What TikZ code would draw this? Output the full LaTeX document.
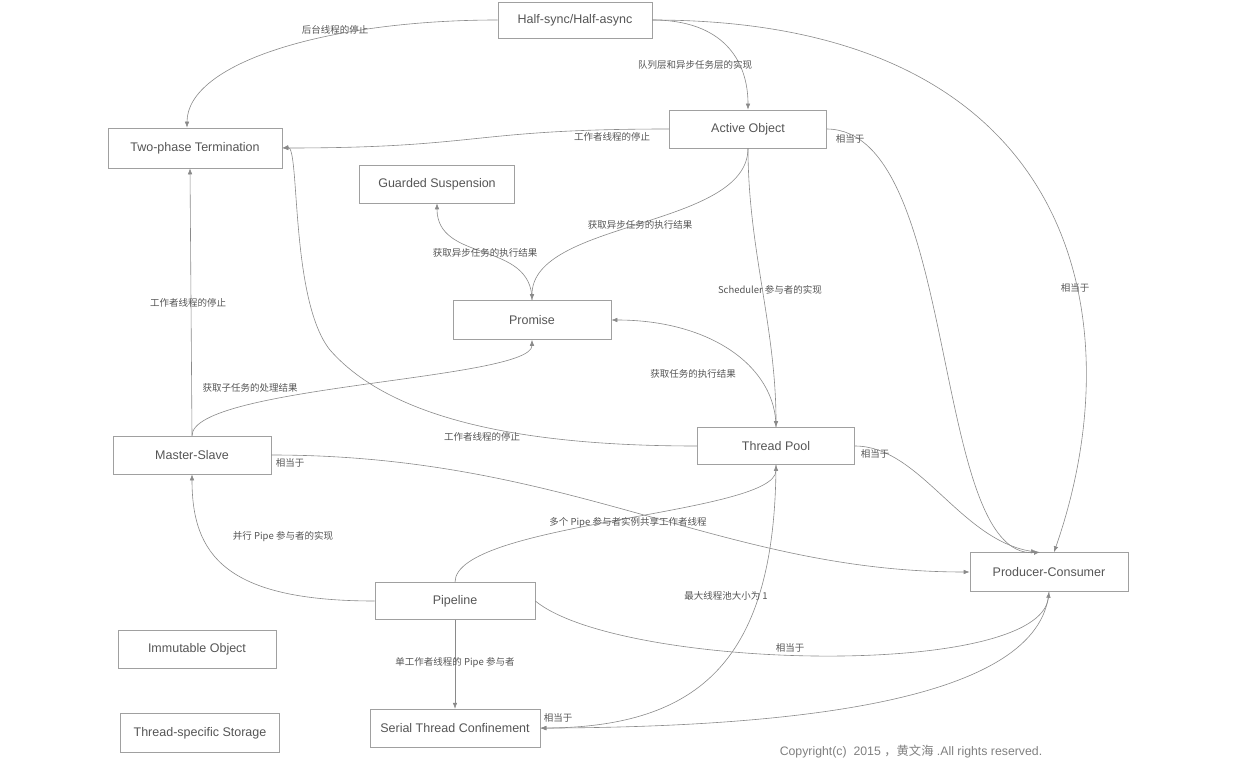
\documentclass[tikz,border=0pt]{standalone}
\usepackage{fontspec}
\setmainfont{Liberation Sans}
\newfontfamily\cjk{Noto Sans CJK SC}
\usetikzlibrary{arrows.meta,positioning}
\definecolor{linegray}{HTML}{8A8A8A}
\definecolor{textgray}{HTML}{555555}
\definecolor{boxgray}{HTML}{A0A0A0}

\begin{document}
\begin{tikzpicture}[x=1pt, y=-1pt, font=\fontsize{12.5}{14}\selectfont, text=textgray,
  block/.style={draw=boxgray, line width=0.6pt, minimum width=157pt, minimum height=38pt, inner sep=2pt},
  lbl/.style={font=\cjk\fontsize{9.5}{11}\selectfont, inner sep=1pt},
  arrow/.style={-{Latex[length=6pt,width=4.5pt]}, draw=linegray, line width=0.6pt}]
  \useasboundingbox (0,0) rectangle (1236,767);
  % patterns
  \node[block, minimum width=154pt, minimum height=36pt] (hs) at (575,20) {Half-sync/Half-async};
  \node[block] (ao) at (748,129) {Active Object};
  \node[block, minimum width=174pt, minimum height=40pt] (tpt) at (195,148) {Two-phase Termination};
  \node[block, minimum width=155pt] (gs) at (437,184) {Guarded Suspension};
  \node[block, minimum width=158pt, minimum height=39pt] (pr) at (532,320) {Promise};
  \node[block, minimum width=158pt] (ms) at (192,455) {Master-Slave};
  \node[block, minimum height=37pt] (tpool) at (776,446) {Thread Pool};
  \node[block, minimum width=158pt, minimum height=39pt] (pc) at (1049,572) {Producer-Consumer};
  \node[block, minimum width=160pt, minimum height=37pt] (pl) at (455,601) {Pipeline};
  \node[block, minimum width=170pt, below=89pt of pl] (stc) {Serial Thread Confinement};
  \node[block, minimum width=158pt] (io) at (197,649) {Immutable Object};
  \node[block, minimum width=159pt, minimum height=39pt] (tss) at (200,733) {Thread-specific Storage};
  % relations
  \draw[arrow] (hs.west) .. controls +(-170,0) and +(0,-65) .. ([xshift=-8pt]tpt.north);
  \node[lbl] (l1) at (335,30) {后台线程的停止};
  \draw[arrow] (hs.east) .. controls +(70,0) and +(0,-50) .. (ao.north);
  \node[lbl] (l2) at (695,65) {队列层和异步任务层的实现};
  \draw[arrow] (hs.east) .. controls (1080,20) and (1135,320) .. ([xshift=5pt]pc.north);
  \node[lbl] (l3) at (1075,288) {相当于};
  \draw[arrow] (ao.west) .. controls +(-200,0) and +(200,0) .. (tpt.east);
  \node[lbl] (l4) at (612,137) {工作者线程的停止};
  \draw[arrow] (ao.east) .. controls (960,130) and (930,560) .. ([xshift=-9pt]pc.north);
  \node[lbl] (l5) at (850,139) {相当于};
  \draw[arrow] (ao.south) .. controls +(0,80) and +(0,-80) .. (pr.north);
  \node[lbl] (l6) at (640,225) {获取异步任务的执行结果};
  \draw[arrow] (pr.north) .. controls +(0,-60) and +(0,60) .. (gs.south);
  \node[lbl] (l7) at (485,253) {获取异步任务的执行结果};
  \draw[arrow] (ao.south) .. controls +(0,100) and +(0,-100) .. (tpool.north);
  \node[lbl] (l8) at (770,290) {Scheduler 参与者的实现};
  \draw[arrow] (tpool.north) .. controls +(0,-60) and +(100,0) .. (pr.east);
  \node[lbl] (l9) at (693,374) {获取任务的执行结果};
  \draw[arrow] (tpool.west) .. controls (560,446) and (400,430) .. (330,350)
    .. controls (290,300) and (300,146) .. (tpt.east);
  \node[lbl] (l10) at (482,437) {工作者线程的停止};
  \draw[arrow] (ms.north) -- ([xshift=-5pt]tpt.south);
  \node[lbl] (l11) at (188,303) {工作者线程的停止};
  \draw[arrow] (ms.north) .. controls +(0,-50) and +(0,40) .. (pr.south);
  \node[lbl] (l12) at (250,388) {获取子任务的处理结果};
  \draw[arrow] (ms.east) .. controls +(300,0) and +(-250,0) .. (pc.west);
  \node[lbl] (l13) at (290,463) {相当于};
  \draw[arrow] (tpool.east) .. controls (920,446) and (960,540) .. ([xshift=-12pt]pc.north);
  \node[lbl] (l14) at (875,454) {相当于};
  \draw[arrow] (pl.west) .. controls +(-150,0) and +(0,80) .. (ms.south);
  \node[lbl] (l15) at (283,537) {并行 Pipe 参与者的实现};
  \draw[arrow] (pl.north) .. controls +(0,-60) and +(0,50) .. (tpool.south);
  \node[lbl] (l16) at (628,523) {多个 Pipe 参与者实例共享工作者线程};
  \draw[arrow] (pl) -- (stc);
  \node[lbl] (l17) at (455,663) {单工作者线程的 Pipe 参与者};
  \draw[arrow] (pl.east) .. controls (620,670) and (1040,680) .. (pc.south);
  \node[lbl] (l18) at (790,648) {相当于};
  \draw[arrow] (tpool.south) .. controls (775,660) and (700,727) .. (stc.east);
  \node[lbl] (l19) at (726,596) {最大线程池大小为 1};
  \draw[arrow] (pc.south) .. controls (1040,700) and (800,727) .. (stc.east);
  \node[lbl] (l20) at (558,718) {相当于};
  % footer
  \node[font=\fontsize{12.3}{14}\selectfont, text=gray] (copy) at (911,752) {Copyright(c)\ \ 2015 {\cjk ，黄文海} .All rights reserved.};
\end{tikzpicture}
\end{document}
